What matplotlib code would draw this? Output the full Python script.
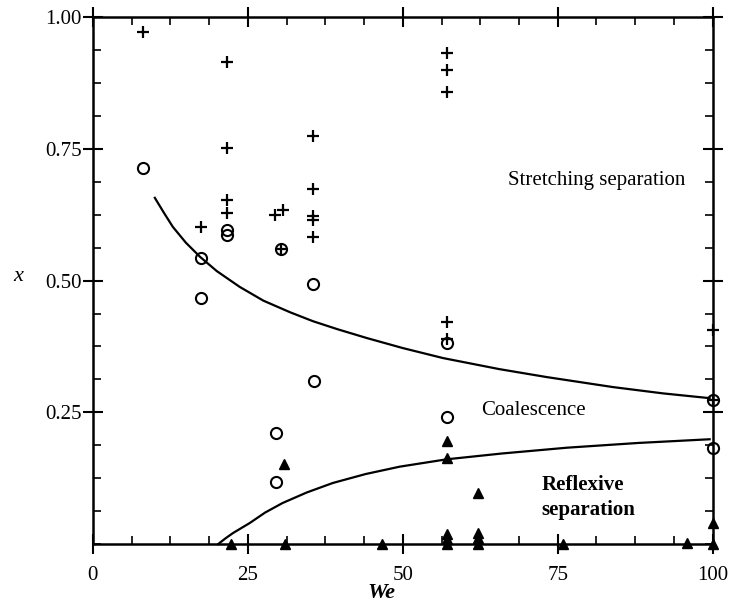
import matplotlib.pyplot as plt
from matplotlib.ticker import MultipleLocator

plt.rcParams['font.family'] = ['Liberation Serif', 'DejaVu Serif']

# stretching separation points (+)
plus_we = [8.1, 21.6, 21.6, 35.5, 35.5, 21.6, 21.6, 17.4, 29.4, 30.6, 35.5, 35.5, 35.5,
           57.1, 57.1, 57.1, 57.1, 100.0, 30.3, 57.1, 100.0]
plus_x = [0.972, 0.915, 0.751, 0.774, 0.674, 0.653, 0.628, 0.602, 0.624, 0.634, 0.622, 0.615, 0.583,
          0.932, 0.899, 0.858, 0.421, 0.406, 0.560, 0.389, 0.273]

# coalescence points (o)
circ_we = [8.1, 17.4, 17.4, 35.5, 35.6, 29.6, 29.6, 57.1, 57.1, 100.0, 100.0, 21.6, 21.6, 30.3]
circ_x = [0.713, 0.543, 0.467, 0.493, 0.309, 0.211, 0.118, 0.381, 0.241, 0.273, 0.182, 0.596, 0.586, 0.560]

# reflexive separation points (triangles)
tri_we = [30.8, 57.1, 57.1, 62.1, 57.1, 57.1, 57.1, 62.1, 62.1, 62.1,
          22.3, 31.0, 46.6, 75.8, 95.8, 100.0, 100.0]
tri_x = [0.152, 0.195, 0.163, 0.097, 0.020, 0.010, 0.0, 0.022, 0.012, 0.0,
         0.0, 0.0, 0.0, 0.0, 0.003, 0.040, 0.0]

# boundary curves
upper_we = [10.0, 11.5, 12.9, 15.0, 17.3, 20.0, 23.7, 27.5, 31.8, 35.5, 39.4, 44.2,
            50.0, 56.5, 65.6, 73.2, 83.9, 92.0, 99.5]
upper_x = [0.657, 0.628, 0.602, 0.572, 0.545, 0.518, 0.488, 0.462, 0.440, 0.423, 0.408, 0.391,
           0.372, 0.353, 0.332, 0.317, 0.298, 0.286, 0.277]
lower_we = [20.2, 21.4, 22.6, 25.3, 27.8, 30.6, 34.5, 38.7, 44.0, 49.5, 57.1, 66.0, 76.5, 88.0, 99.5]
lower_x = [0.0, 0.011, 0.021, 0.040, 0.060, 0.078, 0.098, 0.116, 0.133, 0.147, 0.161, 0.172,
           0.183, 0.192, 0.199]

fig = plt.figure(figsize=(7.31, 6.08), dpi=100)
ax = fig.add_axes([0.127, 0.105, 0.848, 0.867])

ax.plot(upper_we, upper_x, color='black', lw=1.6, solid_joinstyle='round', clip_on=False)
ax.plot(lower_we, lower_x, color='black', lw=1.6, solid_joinstyle='round', clip_on=False)

ax.plot(circ_we, circ_x, 'o', ms=8, mfc='none', mec='black', mew=1.5, clip_on=False)
ax.plot(plus_we, plus_x, '+', ms=9, mec='black', mew=1.6, clip_on=False)
ax.plot(tri_we, tri_x, '^', ms=7, color='black', clip_on=False)

ax.text(81.3, 0.69, 'Stretching separation', fontsize=15, ha='center', va='center')
ax.text(71, 0.254, 'Coalescence', fontsize=15, ha='center', va='center')
ax.text(79, 0.112, 'Reflexive', fontsize=15, ha='center', va='center', fontweight='bold')
ax.text(80, 0.065, 'separation', fontsize=15, ha='center', va='center', fontweight='bold')

ax.set_xlim(0, 100)
ax.set_ylim(0, 1.0)
ax.xaxis.set_minor_locator(MultipleLocator(6.25))
ax.yaxis.set_minor_locator(MultipleLocator(0.0625))
ax.set_xticks([0, 25, 50, 75, 100])
ax.set_xticklabels(['0', '25', '50', '75', '100'])
ax.set_yticks([0.25, 0.5, 0.75, 1.0])
ax.set_yticklabels(['0.25', '0.50', '0.75', '1.00'])

ax.tick_params(which='major', direction='inout', length=14, width=1.5,
               top=True, right=True, labelsize=15)
ax.tick_params(axis='x', which='major', pad=9)
ax.tick_params(axis='y', which='major', pad=1)
ax.tick_params(which='minor', direction='in', length=6, width=1.2, top=True, right=True)
for s in ax.spines.values():
    s.set_linewidth(1.8)

ax.set_xlabel('We', fontsize=16, fontstyle='italic', fontweight='bold')
ax.xaxis.set_label_coords(0.465, -0.074)
ax.set_ylabel('x', fontsize=16, fontstyle='italic', rotation=0)
ax.yaxis.set_label_coords(-0.12, 0.49)

fig.savefig('out.png', dpi=100)
